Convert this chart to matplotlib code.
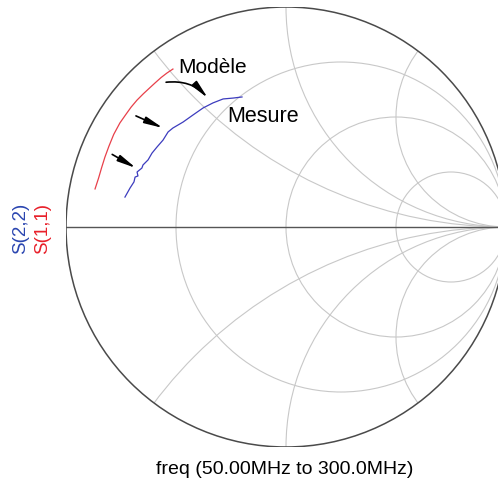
import numpy as np
import matplotlib
matplotlib.use("Agg")
import matplotlib.pyplot as plt
import matplotlib.patches as mpatches

plt.rcParams['font.family'] = ['Liberation Sans', 'DejaVu Sans']

s11_re = [-0.868, -0.852, -0.838, -0.823, -0.805, -0.783, -0.755, -0.729,
          -0.704, -0.677, -0.648, -0.620, -0.595, -0.567, -0.541, -0.514]
s11_im = [0.173, 0.222, 0.270, 0.318, 0.367, 0.421, 0.473, 0.510,
          0.545, 0.577, 0.606, 0.632, 0.655, 0.680, 0.700, 0.718]

s22_re = [-0.732, -0.709, -0.691, -0.686, -0.673, -0.677, -0.655, -0.650,
          -0.627, -0.609, -0.586, -0.559, -0.536, -0.514, -0.468, -0.423,
          -0.377, -0.332, -0.286, -0.241, -0.200]
s22_im = [0.136, 0.177, 0.205, 0.227, 0.232, 0.250, 0.268, 0.282,
          0.305, 0.336, 0.364, 0.395, 0.432, 0.450, 0.477, 0.509,
          0.541, 0.564, 0.582, 0.586, 0.591]

r_circles = [1/3, 1, 3]
x_arcs = [0.5, 1, 2]

fig = plt.figure(figsize=(4.98, 4.88), dpi=100)
ax = fig.add_axes([66/498, 41/488, 440/498, 440/488])
ax.set_xlim(-1, 1)
ax.set_ylim(-1, 1)
ax.axis('off')

grid_col = '#c8c8c8'
outer = mpatches.Circle((0, 0), 1, fill=False, ec='#4a4a4a', lw=1.1, zorder=3)
ax.add_patch(outer)
clip = mpatches.Circle((0, 0), 1, transform=ax.transData)

for r in r_circles:
    c = mpatches.Circle((r/(1+r), 0), 1/(1+r), fill=False, ec=grid_col, lw=0.8)
    ax.add_patch(c)
    c.set_clip_path(clip)

for x in x_arcs:
    for s in (1, -1):
        c = mpatches.Circle((1, s/x), 1/x, fill=False, ec=grid_col, lw=0.8)
        ax.add_patch(c)
        c.set_clip_path(clip)

ax.plot([-1, 1], [0, 0], color='#555555', lw=1.0, zorder=3)

ax.plot(s11_re, s11_im, color='#e8404a', lw=0.9, zorder=4)
ax.plot(s22_re, s22_im, color='#3c3cbe', lw=0.9, zorder=4)

arrow = dict(arrowstyle='-|>,head_length=1.1,head_width=0.2', color='black', lw=1.2,
             shrinkA=0, shrinkB=0)
ax.annotate('', xy=(-0.355, 0.586), xytext=(-0.545, 0.658),
            arrowprops=dict(arrow, connectionstyle='arc3,rad=-0.25'))
ax.annotate('', xy=(-0.559, 0.450), xytext=(-0.682, 0.505), arrowprops=arrow)
ax.annotate('', xy=(-0.682, 0.268), xytext=(-0.790, 0.330), arrowprops=arrow)

ax.text(-0.491, 0.70, 'Modèle', fontsize=15, ha='left', va='baseline')
ax.text(-0.268, 0.477, 'Mesure', fontsize=15.5, ha='left', va='baseline')

fig.text(285/498, 1 - 470/488, 'freq (50.00MHz to 300.0MHz)', fontsize=14,
         ha='center', va='center')
fig.text(21/498, 1 - 228/488, 'S(2,2)', fontsize=13.5, color='#2a45b0',
         rotation=90, ha='center', va='center')
fig.text(43/498, 1 - 228/488, 'S(1,1)', fontsize=13.5, color='#e8202a',
         rotation=90, ha='center', va='center')

fig.savefig('out.png', dpi=100)
